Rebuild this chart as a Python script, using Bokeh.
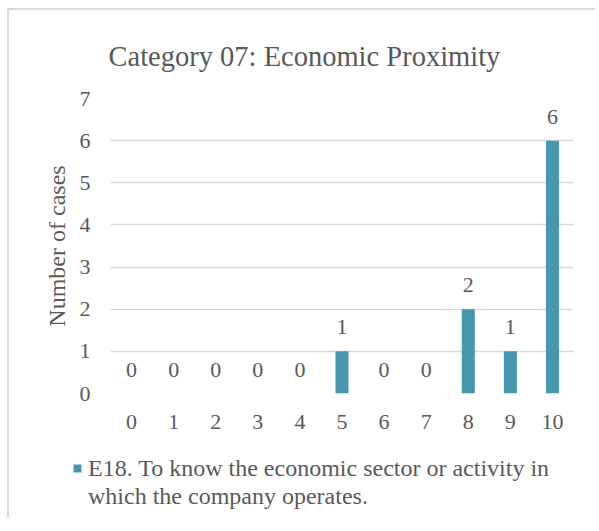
from bokeh.plotting import figure
from bokeh.models import ColumnDataSource, FixedTicker, Legend, LegendItem, Range1d, Title
from bokeh.core.properties import value
from bokeh.embed import file_html
from bokeh.resources import INLINE

scores = [0, 1, 2, 3, 4, 5, 6, 7, 8, 9, 10]
cases = [0, 0, 0, 0, 0, 1, 0, 0, 2, 1, 6]
series_name_lines = ["E18. To know the economic sector or activity in",
                     "which the company operates."]
chart_title = "Category 07: Economic Proximity"
y_label = "Number of cases"
y_ticks = [0, 1, 2, 3, 4, 5, 6, 7]

FONT = "Liberation Serif"
TXT = "#595959"
BAR = "#4598B0"

src = ColumnDataSource(dict(x=scores, y=cases, lab=[str(c) for c in cases]))

p = figure(width=588, height=440, output_backend="svg", toolbar_location=None,
           x_range=Range1d(-0.5, 10.5), y_range=Range1d(0, 7),
           min_border_left=101, min_border_right=24, min_border_top=88, min_border_bottom=57)
p.styles = {"border-top": "2px solid #d9d9d9", "border-left": "2px solid #d9d9d9",
            "margin-top": "8px", "margin-left": "7px"}

p.title = Title(text=chart_title, text_font=FONT, text_font_size="28.5px",
                text_font_style="normal", text_color=TXT, align="left",
                offset=-2, standoff=54)

r = p.vbar(x="x", top="y", width=0.31, source=src, fill_color=BAR, line_color=None)
p.text(x="x", y="y", text="lab", source=src, text_font=value(FONT), text_font_size="22px",
       text_color=TXT, text_align="center", text_baseline="middle", y_offset=-24)

p.xaxis.ticker = FixedTicker(ticks=scores)
p.yaxis.ticker = FixedTicker(ticks=y_ticks)
for ax in (p.xaxis, p.yaxis):
    ax.axis_line_color = None
    ax.major_tick_line_color = None
    ax.minor_tick_line_color = None
    ax.major_tick_out = 0
    ax.major_tick_in = 0
    ax.minor_tick_out = 0
    ax.minor_tick_in = 0
    ax.major_label_text_font = FONT
    ax.major_label_text_font_size = "22px"
    ax.major_label_text_color = TXT
p.xaxis.major_label_standoff = 21
p.yaxis.major_label_standoff = 20
p.yaxis.axis_label = y_label
p.yaxis.axis_label_text_font = FONT
p.yaxis.axis_label_text_font_size = "24px"
p.yaxis.axis_label_text_font_style = "normal"
p.yaxis.axis_label_text_color = TXT
p.yaxis.axis_label_standoff = 7

p.xgrid.grid_line_color = None
p.ygrid.grid_line_color = "#d9d9d9"
p.ygrid.grid_line_width = 1.5
p.outline_line_color = None

# legend panel (separate root so that its frame spans the full width)
p2 = figure(width=588, height=69, output_backend="svg", toolbar_location=None,
            x_range=Range1d(-0.5, 10.5), y_range=Range1d(0, 7),
            x_axis_location=None, y_axis_location=None, min_border=0)
p2.styles = {"border-left": "2px solid #d9d9d9", "margin-left": "7px"}
p2.grid.grid_line_color = None
p2.outline_line_color = None
src2 = ColumnDataSource(dict(x=scores, y=cases))
sw = p2.vbar(x="x", top="y", width=0.31, source=src2, fill_color=BAR, line_color=None,
             visible=False)
blank = p2.vbar(x="x", top="y", width=0.31, source=src2, fill_alpha=0, line_color=None,
                visible=False)
legend = Legend(items=[LegendItem(label=series_name_lines[0], renderers=[sw]),
                       LegendItem(label=series_name_lines[1], renderers=[blank])],
                location=(63, 7), orientation="vertical", spacing=0,
                label_text_font=FONT, label_text_font_size="24px", label_text_color=TXT,
                label_height=28, inactive_fill_alpha=0,
                glyph_width=10, glyph_height=10, label_standoff=6,
                border_line_color=None, background_fill_alpha=0, padding=0, margin=0)
p2.add_layout(legend, "center")

open("out.html", "w").write(file_html([p, p2], INLINE))
